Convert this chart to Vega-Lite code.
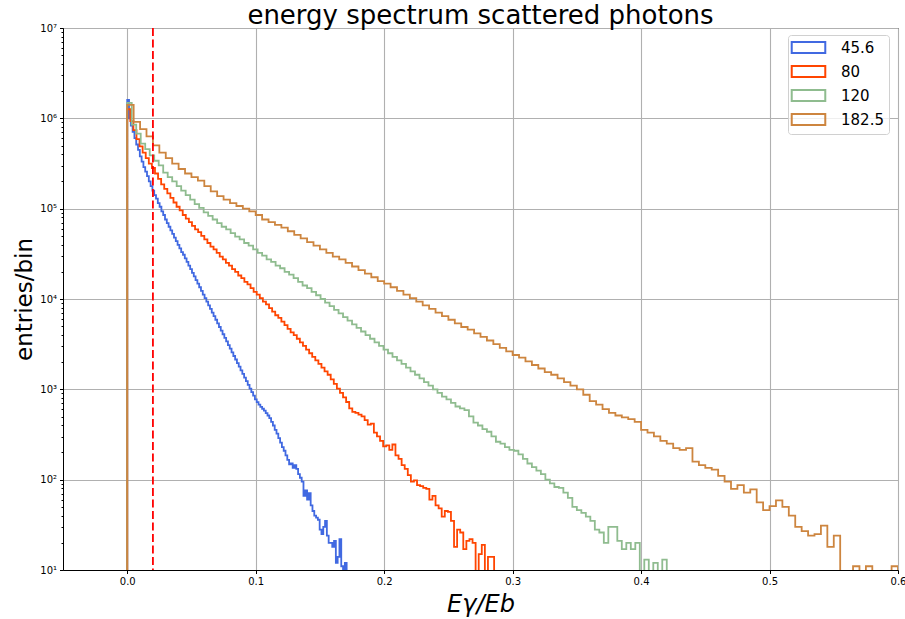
{
"$schema": "https://vega.github.io/schema/vega-lite/v6.json",
"width": 835, "height": 542,
"autosize": "none",
"padding": {"left": 63, "top": 28, "right": 7, "bottom": 49},
"background": "white",
"title": {"text": "energy spectrum scattered photons", "fontSize": 26, "font": "DejaVu Sans", "fontWeight": "normal", "color": "black", "anchor": "middle", "frame": "group", "offset": -6},
"config": {
  "view": {"stroke": "black", "strokeWidth": 1},
  "axis": {"domainColor": "black", "tickColor": "black", "labelColor": "black", "labelFont": "DejaVu Sans", "labelFontSize": 10, "titleFont": "DejaVu Sans", "titleFontWeight": "normal", "titleColor": "black", "gridColor": "#b0b0b0", "gridWidth": 1.1, "tickWidth": 1, "domainWidth": 1}
},
"layer": [
{
"data": {"values": [
{"s":"45.6","x":0,"y":1},
{"s":"45.6","x":0,"y":1600000},{"s":"45.6","x":0.0014,"y":1000000},{"s":"45.6","x":0.0028,"y":832000},{"s":"45.6","x":0.0042,"y":708000},{"s":"45.6","x":0.0056,"y":603000},{"s":"45.6","x":0.007,"y":513000},{"s":"45.6","x":0.0084,"y":447000},{"s":"45.6","x":0.0098,"y":380000},{"s":"45.6","x":0.0112,"y":331000},{"s":"45.6","x":0.0126,"y":288000},
{"s":"45.6","x":0.014,"y":257000},{"s":"45.6","x":0.0154,"y":229000},{"s":"45.6","x":0.0168,"y":200000},{"s":"45.6","x":0.0182,"y":178000},{"s":"45.6","x":0.0196,"y":158000},{"s":"45.6","x":0.021,"y":141000},{"s":"45.6","x":0.0224,"y":129000},{"s":"45.6","x":0.0238,"y":115000},{"s":"45.6","x":0.0252,"y":105000},{"s":"45.6","x":0.0266,"y":93300},
{"s":"45.6","x":0.028,"y":85100},{"s":"45.6","x":0.0294,"y":75900},{"s":"45.6","x":0.0308,"y":69200},{"s":"45.6","x":0.0322,"y":63100},{"s":"45.6","x":0.0336,"y":57500},{"s":"45.6","x":0.035,"y":52500},{"s":"45.6","x":0.0364,"y":47900},{"s":"45.6","x":0.0378,"y":43700},{"s":"45.6","x":0.0392,"y":39800},{"s":"45.6","x":0.0406,"y":36300},
{"s":"45.6","x":0.042,"y":33100},{"s":"45.6","x":0.0434,"y":30900},{"s":"45.6","x":0.0448,"y":28200},{"s":"45.6","x":0.0462,"y":25700},{"s":"45.6","x":0.0476,"y":23400},{"s":"45.6","x":0.049,"y":21400},{"s":"45.6","x":0.0504,"y":19500},{"s":"45.6","x":0.0518,"y":17800},{"s":"45.6","x":0.0532,"y":16200},{"s":"45.6","x":0.0546,"y":14800},
{"s":"45.6","x":0.056,"y":13500},{"s":"45.6","x":0.0574,"y":12300},{"s":"45.6","x":0.0588,"y":11200},{"s":"45.6","x":0.0602,"y":10200},{"s":"45.6","x":0.0616,"y":9330},{"s":"45.6","x":0.063,"y":8510},{"s":"45.6","x":0.0644,"y":7760},{"s":"45.6","x":0.0658,"y":7080},{"s":"45.6","x":0.0672,"y":6460},{"s":"45.6","x":0.0686,"y":5890},
{"s":"45.6","x":0.07,"y":5370},{"s":"45.6","x":0.0714,"y":4900},{"s":"45.6","x":0.0728,"y":4470},{"s":"45.6","x":0.0742,"y":4070},{"s":"45.6","x":0.0756,"y":3720},{"s":"45.6","x":0.077,"y":3390},{"s":"45.6","x":0.0784,"y":3090},{"s":"45.6","x":0.0798,"y":2820},{"s":"45.6","x":0.0812,"y":2570},{"s":"45.6","x":0.0826,"y":2340},
{"s":"45.6","x":0.084,"y":2140},{"s":"45.6","x":0.0854,"y":1950},{"s":"45.6","x":0.0868,"y":1780},{"s":"45.6","x":0.0882,"y":1620},{"s":"45.6","x":0.0896,"y":1480},{"s":"45.6","x":0.091,"y":1350},{"s":"45.6","x":0.0924,"y":1230},{"s":"45.6","x":0.0938,"y":1120},{"s":"45.6","x":0.0952,"y":1020},{"s":"45.6","x":0.0966,"y":933},
{"s":"45.6","x":0.098,"y":851},{"s":"45.6","x":0.0994,"y":776},{"s":"45.6","x":0.1008,"y":720},{"s":"45.6","x":0.1022,"y":676},{"s":"45.6","x":0.1036,"y":640},{"s":"45.6","x":0.105,"y":610},{"s":"45.6","x":0.1064,"y":580},{"s":"45.6","x":0.1078,"y":545},{"s":"45.6","x":0.1092,"y":513},{"s":"45.6","x":0.1106,"y":479},
{"s":"45.6","x":0.112,"y":437},{"s":"45.6","x":0.1134,"y":398},{"s":"45.6","x":0.1148,"y":355},{"s":"45.6","x":0.1162,"y":324},{"s":"45.6","x":0.1176,"y":288},{"s":"45.6","x":0.119,"y":257},{"s":"45.6","x":0.1204,"y":229},{"s":"45.6","x":0.1218,"y":209},{"s":"45.6","x":0.1232,"y":186},{"s":"45.6","x":0.1246,"y":166},
{"s":"45.6","x":0.126,"y":148},{"s":"45.6","x":0.1274,"y":151},{"s":"45.6","x":0.1288,"y":135},{"s":"45.6","x":0.1302,"y":145},{"s":"45.6","x":0.1316,"y":132},{"s":"45.6","x":0.133,"y":115},{"s":"45.6","x":0.1344,"y":105},{"s":"45.6","x":0.1358,"y":95},{"s":"45.6","x":0.1372,"y":66},{"s":"45.6","x":0.1386,"y":76},
{"s":"45.6","x":0.14,"y":60},{"s":"45.6","x":0.1414,"y":71},{"s":"45.6","x":0.1428,"y":52},{"s":"45.6","x":0.1442,"y":45},{"s":"45.6","x":0.1456,"y":40},{"s":"45.6","x":0.147,"y":38},{"s":"45.6","x":0.1484,"y":36},{"s":"45.6","x":0.1498,"y":28},{"s":"45.6","x":0.1512,"y":25},{"s":"45.6","x":0.1526,"y":30},
{"s":"45.6","x":0.154,"y":35},{"s":"45.6","x":0.1554,"y":24},{"s":"45.6","x":0.1568,"y":20},{"s":"45.6","x":0.1582,"y":20},{"s":"45.6","x":0.1596,"y":18},{"s":"45.6","x":0.161,"y":21},{"s":"45.6","x":0.1624,"y":12},{"s":"45.6","x":0.1638,"y":14},{"s":"45.6","x":0.1652,"y":22},{"s":"45.6","x":0.1666,"y":11},
{"s":"45.6","x":0.168,"y":5},{"s":"45.6","x":0.1694,"y":12},{"s":"45.6","x":0.1708,"y":12},{"s":"45.6","x":0.1708,"y":1},

{"s":"80","x":0,"y":1},
{"s":"80","x":0,"y":1260000},{"s":"80","x":0.0024,"y":933000},{"s":"80","x":0.0048,"y":741000},{"s":"80","x":0.0072,"y":589000},{"s":"80","x":0.0096,"y":490000},{"s":"80","x":0.012,"y":417000},{"s":"80","x":0.0144,"y":363000},{"s":"80","x":0.0168,"y":316000},{"s":"80","x":0.0192,"y":282000},{"s":"80","x":0.0216,"y":245000},
{"s":"80","x":0.024,"y":214000},{"s":"80","x":0.0264,"y":186000},{"s":"80","x":0.0288,"y":166000},{"s":"80","x":0.0312,"y":148000},{"s":"80","x":0.0336,"y":132000},{"s":"80","x":0.036,"y":117000},{"s":"80","x":0.0384,"y":105000},{"s":"80","x":0.0408,"y":95500},{"s":"80","x":0.0432,"y":85100},{"s":"80","x":0.0456,"y":77600},
{"s":"80","x":0.048,"y":70800},{"s":"80","x":0.0504,"y":64600},{"s":"80","x":0.0528,"y":58900},{"s":"80","x":0.0552,"y":55000},{"s":"80","x":0.0576,"y":50100},{"s":"80","x":0.06,"y":45700},{"s":"80","x":0.0624,"y":41700},{"s":"80","x":0.0648,"y":38000},{"s":"80","x":0.0672,"y":35500},{"s":"80","x":0.0696,"y":32400},
{"s":"80","x":0.072,"y":29500},{"s":"80","x":0.0744,"y":27500},{"s":"80","x":0.0768,"y":25100},{"s":"80","x":0.0792,"y":23400},{"s":"80","x":0.0816,"y":21400},{"s":"80","x":0.084,"y":20000},{"s":"80","x":0.0864,"y":18200},{"s":"80","x":0.0888,"y":17000},{"s":"80","x":0.0912,"y":15500},{"s":"80","x":0.0936,"y":14500},
{"s":"80","x":0.096,"y":13200},{"s":"80","x":0.0984,"y":12000},{"s":"80","x":0.1008,"y":11200},{"s":"80","x":0.1032,"y":10200},{"s":"80","x":0.1056,"y":9330},{"s":"80","x":0.108,"y":8710},{"s":"80","x":0.1104,"y":7940},{"s":"80","x":0.1128,"y":7240},{"s":"80","x":0.1152,"y":6610},{"s":"80","x":0.1176,"y":6170},
{"s":"80","x":0.12,"y":5620},{"s":"80","x":0.1224,"y":5130},{"s":"80","x":0.1248,"y":4680},{"s":"80","x":0.1272,"y":4270},{"s":"80","x":0.1296,"y":3980},{"s":"80","x":0.132,"y":3630},{"s":"80","x":0.1344,"y":3310},{"s":"80","x":0.1368,"y":3020},{"s":"80","x":0.1392,"y":2750},{"s":"80","x":0.1416,"y":2510},
{"s":"80","x":0.144,"y":2290},{"s":"80","x":0.1464,"y":2090},{"s":"80","x":0.1488,"y":1910},{"s":"80","x":0.1512,"y":1740},{"s":"80","x":0.1536,"y":1580},{"s":"80","x":0.156,"y":1450},{"s":"80","x":0.1584,"y":1290},{"s":"80","x":0.1608,"y":1150},{"s":"80","x":0.1632,"y":1020},{"s":"80","x":0.1656,"y":912},
{"s":"80","x":0.168,"y":813},{"s":"80","x":0.1704,"y":724},{"s":"80","x":0.1728,"y":617},{"s":"80","x":0.1752,"y":562},{"s":"80","x":0.1776,"y":550},{"s":"80","x":0.18,"y":525},{"s":"80","x":0.1824,"y":501},{"s":"80","x":0.1848,"y":457},{"s":"80","x":0.1872,"y":407},{"s":"80","x":0.1896,"y":417},
{"s":"80","x":0.192,"y":331},{"s":"80","x":0.1944,"y":302},{"s":"80","x":0.1968,"y":269},{"s":"80","x":0.1992,"y":234},{"s":"80","x":0.2016,"y":240},{"s":"80","x":0.204,"y":214},{"s":"80","x":0.2064,"y":245},{"s":"80","x":0.2088,"y":186},{"s":"80","x":0.2112,"y":170},{"s":"80","x":0.2136,"y":145},
{"s":"80","x":0.216,"y":132},{"s":"80","x":0.2184,"y":112},{"s":"80","x":0.2208,"y":95},{"s":"80","x":0.2232,"y":98},{"s":"80","x":0.2256,"y":87},{"s":"80","x":0.228,"y":85},{"s":"80","x":0.2304,"y":81},{"s":"80","x":0.2328,"y":79},{"s":"80","x":0.2352,"y":60},{"s":"80","x":0.2376,"y":66},
{"s":"80","x":0.24,"y":52},{"s":"80","x":0.2424,"y":48},{"s":"80","x":0.2448,"y":39},{"s":"80","x":0.2472,"y":45},{"s":"80","x":0.2496,"y":44},{"s":"80","x":0.252,"y":35},{"s":"80","x":0.2544,"y":18},{"s":"80","x":0.2568,"y":28},{"s":"80","x":0.2592,"y":26},{"s":"80","x":0.2616,"y":17},
{"s":"80","x":0.264,"y":21},{"s":"80","x":0.2664,"y":22},{"s":"80","x":0.2688,"y":20},{"s":"80","x":0.2712,"y":5},{"s":"80","x":0.2736,"y":15},{"s":"80","x":0.276,"y":19},{"s":"80","x":0.2784,"y":5},{"s":"80","x":0.2808,"y":14},{"s":"80","x":0.2832,"y":14},{"s":"80","x":0.2856,"y":14},{"s":"80","x":0.2856,"y":1},

{"s":"120","x":0,"y":1},
{"s":"120","x":0,"y":1480000},{"s":"120","x":0.0035,"y":851000},{"s":"120","x":0.007,"y":676000},{"s":"120","x":0.0105,"y":525000},{"s":"120","x":0.014,"y":457000},{"s":"120","x":0.0175,"y":389000},{"s":"120","x":0.021,"y":339000},{"s":"120","x":0.0245,"y":302000},{"s":"120","x":0.028,"y":251000},{"s":"120","x":0.0315,"y":224000},
{"s":"120","x":0.035,"y":200000},{"s":"120","x":0.0385,"y":178000},{"s":"120","x":0.042,"y":158000},{"s":"120","x":0.0455,"y":141000},{"s":"120","x":0.049,"y":126000},{"s":"120","x":0.0525,"y":112000},{"s":"120","x":0.056,"y":102000},{"s":"120","x":0.0595,"y":91200},{"s":"120","x":0.063,"y":83200},{"s":"120","x":0.0665,"y":75900},
{"s":"120","x":0.07,"y":69200},{"s":"120","x":0.0735,"y":63100},{"s":"120","x":0.077,"y":58900},{"s":"120","x":0.0805,"y":53700},{"s":"120","x":0.084,"y":49000},{"s":"120","x":0.0875,"y":45700},{"s":"120","x":0.091,"y":41700},{"s":"120","x":0.0945,"y":38900},{"s":"120","x":0.098,"y":35500},{"s":"120","x":0.1015,"y":32400},
{"s":"120","x":0.105,"y":30200},{"s":"120","x":0.1085,"y":27500},{"s":"120","x":0.112,"y":25700},{"s":"120","x":0.1155,"y":23400},{"s":"120","x":0.119,"y":21900},{"s":"120","x":0.1225,"y":20000},{"s":"120","x":0.126,"y":18600},{"s":"120","x":0.1295,"y":17000},{"s":"120","x":0.133,"y":15500},{"s":"120","x":0.1365,"y":14100},
{"s":"120","x":0.14,"y":13200},{"s":"120","x":0.1435,"y":12000},{"s":"120","x":0.147,"y":11000},{"s":"120","x":0.1505,"y":10000},{"s":"120","x":0.154,"y":9120},{"s":"120","x":0.1575,"y":8320},{"s":"120","x":0.161,"y":7590},{"s":"120","x":0.1645,"y":6920},{"s":"120","x":0.168,"y":6310},{"s":"120","x":0.1715,"y":5750},
{"s":"120","x":0.175,"y":5250},{"s":"120","x":0.1785,"y":4790},{"s":"120","x":0.182,"y":4370},{"s":"120","x":0.1855,"y":3980},{"s":"120","x":0.189,"y":3630},{"s":"120","x":0.1925,"y":3310},{"s":"120","x":0.196,"y":3020},{"s":"120","x":0.1995,"y":2750},{"s":"120","x":0.203,"y":2510},{"s":"120","x":0.2065,"y":2290},
{"s":"120","x":0.21,"y":2090},{"s":"120","x":0.2135,"y":1910},{"s":"120","x":0.217,"y":1740},{"s":"120","x":0.2205,"y":1580},{"s":"120","x":0.224,"y":1450},{"s":"120","x":0.2275,"y":1320},{"s":"120","x":0.231,"y":1200},{"s":"120","x":0.2345,"y":1100},{"s":"120","x":0.238,"y":1000},{"s":"120","x":0.2415,"y":912},
{"s":"120","x":0.245,"y":832},{"s":"120","x":0.2485,"y":776},{"s":"120","x":0.252,"y":708},{"s":"120","x":0.2555,"y":646},{"s":"120","x":0.259,"y":617},{"s":"120","x":0.2625,"y":589},{"s":"120","x":0.266,"y":501},{"s":"120","x":0.2695,"y":427},{"s":"120","x":0.273,"y":398},{"s":"120","x":0.2765,"y":363},
{"s":"120","x":0.28,"y":339},{"s":"120","x":0.2835,"y":302},{"s":"120","x":0.287,"y":263},{"s":"120","x":0.2905,"y":251},{"s":"120","x":0.294,"y":229},{"s":"120","x":0.2975,"y":214},{"s":"120","x":0.301,"y":209},{"s":"120","x":0.3045,"y":191},{"s":"120","x":0.308,"y":170},{"s":"120","x":0.3115,"y":151},
{"s":"120","x":0.315,"y":138},{"s":"120","x":0.3185,"y":126},{"s":"120","x":0.322,"y":115},{"s":"120","x":0.3255,"y":100},{"s":"120","x":0.329,"y":91},{"s":"120","x":0.3325,"y":83},{"s":"120","x":0.336,"y":81},{"s":"120","x":0.3395,"y":72},{"s":"120","x":0.343,"y":63},{"s":"120","x":0.3465,"y":50},
{"s":"120","x":0.35,"y":46},{"s":"120","x":0.3535,"y":43},{"s":"120","x":0.357,"y":39},{"s":"120","x":0.3605,"y":35},{"s":"120","x":0.364,"y":28},{"s":"120","x":0.3675,"y":26},{"s":"120","x":0.371,"y":20},{"s":"120","x":0.3745,"y":30},{"s":"120","x":0.378,"y":30},{"s":"120","x":0.3815,"y":21},
{"s":"120","x":0.385,"y":17},{"s":"120","x":0.3885,"y":20},{"s":"120","x":0.392,"y":17},{"s":"120","x":0.3955,"y":20},{"s":"120","x":0.399,"y":5},{"s":"120","x":0.4025,"y":13},{"s":"120","x":0.406,"y":5},{"s":"120","x":0.4095,"y":12},{"s":"120","x":0.413,"y":5},{"s":"120","x":0.4165,"y":13},{"s":"120","x":0.42,"y":13},{"s":"120","x":0.42,"y":1},

{"s":"182.5","x":0,"y":1},
{"s":"182.5","x":0,"y":1410000},{"s":"182.5","x":0.005,"y":912000},{"s":"182.5","x":0.01,"y":759000},{"s":"182.5","x":0.015,"y":631000},{"s":"182.5","x":0.02,"y":501000},{"s":"182.5","x":0.025,"y":417000},{"s":"182.5","x":0.03,"y":363000},{"s":"182.5","x":0.035,"y":316000},{"s":"182.5","x":0.04,"y":275000},{"s":"182.5","x":0.045,"y":245000},
{"s":"182.5","x":0.05,"y":224000},{"s":"182.5","x":0.055,"y":204000},{"s":"182.5","x":0.06,"y":178000},{"s":"182.5","x":0.065,"y":155000},{"s":"182.5","x":0.07,"y":138000},{"s":"182.5","x":0.075,"y":126000},{"s":"182.5","x":0.08,"y":115000},{"s":"182.5","x":0.085,"y":107000},{"s":"182.5","x":0.09,"y":100000},{"s":"182.5","x":0.095,"y":93300},
{"s":"182.5","x":0.1,"y":85100},{"s":"182.5","x":0.105,"y":75900},{"s":"182.5","x":0.11,"y":70800},{"s":"182.5","x":0.115,"y":66100},{"s":"182.5","x":0.12,"y":61700},{"s":"182.5","x":0.125,"y":56200},{"s":"182.5","x":0.13,"y":51300},{"s":"182.5","x":0.135,"y":46800},{"s":"182.5","x":0.14,"y":42700},{"s":"182.5","x":0.145,"y":38900},
{"s":"182.5","x":0.15,"y":35500},{"s":"182.5","x":0.155,"y":32400},{"s":"182.5","x":0.16,"y":29500},{"s":"182.5","x":0.165,"y":27500},{"s":"182.5","x":0.17,"y":25100},{"s":"182.5","x":0.175,"y":22900},{"s":"182.5","x":0.18,"y":20900},{"s":"182.5","x":0.185,"y":19100},{"s":"182.5","x":0.19,"y":17400},{"s":"182.5","x":0.195,"y":15800},
{"s":"182.5","x":0.2,"y":14800},{"s":"182.5","x":0.205,"y":13500},{"s":"182.5","x":0.21,"y":12300},{"s":"182.5","x":0.215,"y":11200},{"s":"182.5","x":0.22,"y":10200},{"s":"182.5","x":0.225,"y":9330},{"s":"182.5","x":0.23,"y":8510},{"s":"182.5","x":0.235,"y":7760},{"s":"182.5","x":0.24,"y":7080},{"s":"182.5","x":0.245,"y":6460},
{"s":"182.5","x":0.25,"y":5890},{"s":"182.5","x":0.255,"y":5370},{"s":"182.5","x":0.26,"y":4900},{"s":"182.5","x":0.265,"y":4570},{"s":"182.5","x":0.27,"y":4170},{"s":"182.5","x":0.275,"y":3800},{"s":"182.5","x":0.28,"y":3470},{"s":"182.5","x":0.285,"y":3160},{"s":"182.5","x":0.29,"y":2880},{"s":"182.5","x":0.295,"y":2630},
{"s":"182.5","x":0.3,"y":2400},{"s":"182.5","x":0.305,"y":2240},{"s":"182.5","x":0.31,"y":2040},{"s":"182.5","x":0.315,"y":1860},{"s":"182.5","x":0.32,"y":1700},{"s":"182.5","x":0.325,"y":1550},{"s":"182.5","x":0.33,"y":1450},{"s":"182.5","x":0.335,"y":1320},{"s":"182.5","x":0.34,"y":1200},{"s":"182.5","x":0.345,"y":1100},
{"s":"182.5","x":0.35,"y":1000},{"s":"182.5","x":0.355,"y":871},{"s":"182.5","x":0.36,"y":741},{"s":"182.5","x":0.365,"y":676},{"s":"182.5","x":0.37,"y":603},{"s":"182.5","x":0.375,"y":550},{"s":"182.5","x":0.38,"y":513},{"s":"182.5","x":0.385,"y":490},{"s":"182.5","x":0.39,"y":468},{"s":"182.5","x":0.395,"y":437},
{"s":"182.5","x":0.4,"y":355},{"s":"182.5","x":0.405,"y":331},{"s":"182.5","x":0.41,"y":302},{"s":"182.5","x":0.415,"y":269},{"s":"182.5","x":0.42,"y":251},{"s":"182.5","x":0.425,"y":224},{"s":"182.5","x":0.43,"y":214},{"s":"182.5","x":0.435,"y":224},{"s":"182.5","x":0.44,"y":158},{"s":"182.5","x":0.445,"y":145},
{"s":"182.5","x":0.45,"y":135},{"s":"182.5","x":0.455,"y":129},{"s":"182.5","x":0.46,"y":110},{"s":"182.5","x":0.465,"y":95},{"s":"182.5","x":0.47,"y":79},{"s":"182.5","x":0.475,"y":87},{"s":"182.5","x":0.48,"y":72},{"s":"182.5","x":0.485,"y":78},{"s":"182.5","x":0.49,"y":56},{"s":"182.5","x":0.495,"y":46},
{"s":"182.5","x":0.5,"y":51},{"s":"182.5","x":0.505,"y":59},{"s":"182.5","x":0.51,"y":50},{"s":"182.5","x":0.515,"y":40},{"s":"182.5","x":0.52,"y":30},{"s":"182.5","x":0.525,"y":27},{"s":"182.5","x":0.53,"y":24},{"s":"182.5","x":0.535,"y":25},{"s":"182.5","x":0.54,"y":31},{"s":"182.5","x":0.545,"y":18},
{"s":"182.5","x":0.55,"y":24},{"s":"182.5","x":0.555,"y":5},{"s":"182.5","x":0.56,"y":5},{"s":"182.5","x":0.565,"y":11},{"s":"182.5","x":0.57,"y":5},{"s":"182.5","x":0.575,"y":11},{"s":"182.5","x":0.58,"y":5},{"s":"182.5","x":0.585,"y":5},{"s":"182.5","x":0.59,"y":5},{"s":"182.5","x":0.595,"y":11},{"s":"182.5","x":0.6,"y":11},{"s":"182.5","x":0.6,"y":1}
]},
"mark": {"type": "line", "interpolate": "step-after", "strokeWidth": 1.8, "clip": true},
"encoding": {
  "x": {"field": "x", "type": "quantitative", "scale": {"domain": [-0.05, 0.6], "nice": false, "zero": false},
        "axis": {"values": [0, 0.1, 0.2, 0.3, 0.4, 0.5, 0.6], "format": ".1f", "title": "Eγ/Eb", "titleFontSize": 24, "titleFontStyle": "italic", "titlePadding": 6, "tickSize": 3.5, "labelPadding": 3, "grid": true, "labelFlush": false}},
  "y": {"field": "y", "type": "quantitative", "scale": {"type": "log", "domain": [10, 10000000], "nice": false},
        "axis": {"values": [10,20,30,40,50,60,70,80,90,100,200,300,400,500,600,700,800,900,1000,2000,3000,4000,5000,6000,7000,8000,9000,10000,20000,30000,40000,50000,60000,70000,80000,90000,100000,200000,300000,400000,500000,600000,700000,800000,900000,1000000,2000000,3000000,4000000,5000000,6000000,7000000,8000000,9000000,10000000],
                 "labelExpr": "indexof([10,100,1000,10000,100000,1000000,10000000], datum.value) >= 0 ? '10' + ['⁰','¹','²','³','⁴','⁵','⁶','⁷'][round(log(datum.value)/LN10)] : ''",
                 "tickSize": {"condition": {"test": "indexof([10,100,1000,10000,100000,1000000,10000000], datum.value) >= 0", "value": 3.5}, "value": 2},
                 "gridOpacity": {"condition": {"test": "indexof([10,100,1000,10000,100000,1000000,10000000], datum.value) >= 0", "value": 1}, "value": 0},
                 "grid": true, "labelOverlap": false, "labelPadding": 3, "title": "entries/bin", "titleFontSize": 23, "titlePadding": 3, "labelFlush": false}},
  "color": {"field": "s", "type": "nominal",
            "scale": {"domain": ["45.6", "80", "120", "182.5"], "range": ["#4169e1", "#ff4500", "#8fbc8f", "#cd853f"]},
            "legend": {"title": null, "orient": "none", "legendX": 725, "legendY": 7, "labelFont": "DejaVu Sans", "labelFontSize": 15, "labelColor": "black",
                       "symbolType": "M-3.2,-1.04H3.2V1.04H-3.2Z", "symbolSize": 110, "symbolStrokeWidth": 2, "symbolFillColor": "transparent",
                       "symbolOffset": 8, "labelOffset": 25, "rowPadding": 5, "padding": 5, "fillColor": "rgba(255,255,255,0.8)", "strokeColor": "#d0d0d0", "cornerRadius": 3}}
}
},
{
"data": {"values": [{"x": 0.02}]},
"mark": {"type": "rule", "color": "#ff0000", "strokeDash": [8, 3.5], "strokeWidth": 1.8},
"encoding": {"x": {"field": "x", "type": "quantitative"}}
}
]
}
